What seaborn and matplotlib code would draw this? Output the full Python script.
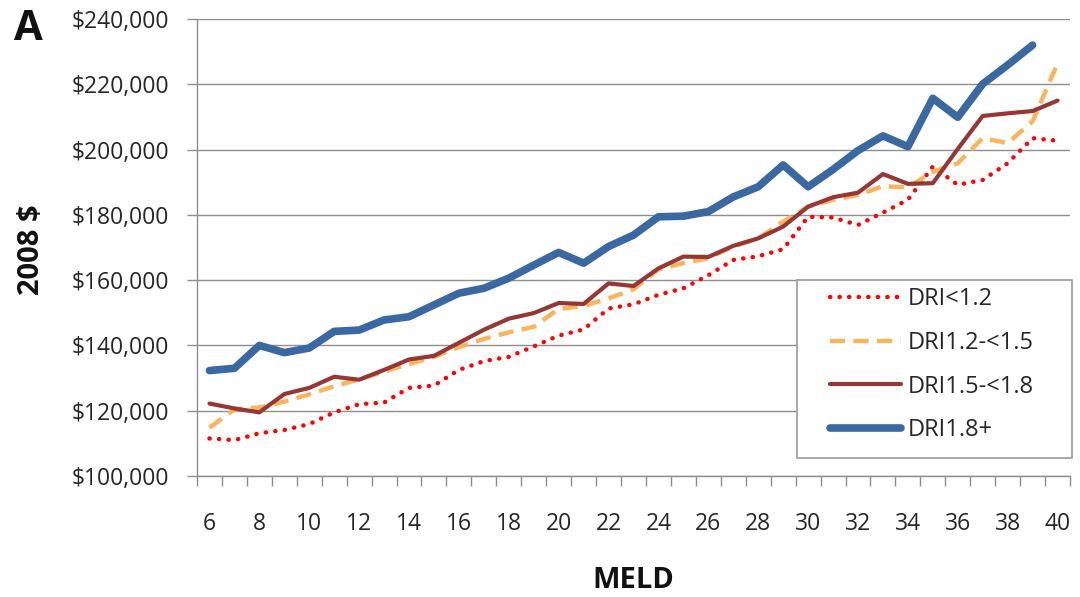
import numpy as np
import pandas as pd
import matplotlib
matplotlib.use("Agg")
import matplotlib.pyplot as plt
from matplotlib.ticker import FuncFormatter, MultipleLocator, FixedLocator
from matplotlib.patches import Rectangle
import seaborn as sns

# ---------------- data ----------------
meld = list(range(6, 41))

dri_lt_12 = [111500, 111000, 113100, 114100, 115900, 119500, 122000, 122500, 127000, 127700,
             132500, 135200, 136500, 139700, 143000, 144900, 151300, 152600, 155500, 157500,
             161500, 166200, 167300, 169500, 179400, 179200, 176900, 180700, 184600, 194800,
             189200, 190700, 195800, 203500, 202700]

dri_12_15 = [114800, 120400, 121000, 122800, 125000, 127500, 129600, 132000, 134300, 136500,
             139500, 142000, 144000, 145700, 151200, 152100, 154400, 157200, 163300, 165200,
             166700, 170300, 172800, 177900, 182500, 184600, 186100, 188800, 188400, 193200,
             195800, 203500, 202000, 208600, 226400]

dri_15_18 = [122200, 120700, 119500, 125100, 127000, 130400, 129500, 132500, 135700, 136800,
             140800, 144800, 148200, 149900, 153000, 152700, 159000, 158200, 163600, 167200,
             167100, 170500, 172800, 176400, 182500, 185400, 186800, 192500, 189500, 189700,
             200200, 210300, 211100, 211800, 215000]

dri_18_plus = [132300, 133000, 140000, 137800, 139200, 144300, 144700, 147800, 148800, 152400,
               156000, 157500, 160600, 164600, 168500, 165200, 170300, 173800, 179400, 179600,
               181000, 185500, 188600, 195300, 188600, 193900, 199700, 204200, 200900, 215700,
               209900, 220100, 225900, 232000, np.nan]

series_names = ["DRI<1.2", "DRI1.2-<1.5", "DRI1.5-<1.8", "DRI1.8+"]
series_values = [dri_lt_12, dri_12_15, dri_15_18, dri_18_plus]

y_ticks = [100000, 120000, 140000, 160000, 180000, 200000, 220000, 240000]
x_tick_labels = list(range(6, 41, 2))

# ---------------- styling ----------------
sns.set_style("white")
plt.rcParams["font.family"] = ["Open Sans", "DejaVu Sans"]

styles = {
    "DRI<1.2":      dict(color="#FF0000", lw=3.2, ls=(0, (0.05, 2.1)), cap="round"),
    "DRI1.2-<1.5":  dict(color="#F9B45E", lw=3.2, ls=(0, (3.4, 1.9)), cap="butt"),
    "DRI1.5-<1.8":  dict(color="#953735", lw=3.0, ls="-", cap="round"),
    "DRI1.8+":      dict(color="#3A68A0", lw=5.5, ls="-", cap="round"),
}

fig = plt.figure(figsize=(10.8, 5.97), dpi=100)
ax = fig.add_axes([197 / 1080, 1 - 476 / 597, 873 / 1080, 457 / 597])

df = pd.DataFrame({"MELD": meld})
for name, vals in zip(series_names, series_values):
    df[name] = vals

for name in series_names:
    st = styles[name]
    sns.lineplot(data=df, x="MELD", y=name, ax=ax, color=st["color"], linewidth=st["lw"],
                 label=name, zorder=3)
    line = ax.lines[-1]
    line.set_linestyle(st["ls"])
    line.set_dash_capstyle(st["cap"])
    line.set_solid_capstyle("round")
    line.set_solid_joinstyle("round")

ax.set_xlim(5.5, 40.5)
ax.set_ylim(100000, 240000)
ax.yaxis.set_major_locator(FixedLocator(y_ticks))
ax.yaxis.set_major_formatter(FuncFormatter(lambda v, p: f"${v:,.0f}"))
ax.xaxis.set_major_locator(FixedLocator(x_tick_labels))
ax.xaxis.set_minor_locator(MultipleLocator(1, offset=0.5))

grid_c = "#8E8E8E"
ax.grid(axis="y", color=grid_c, linewidth=1.0, zorder=0)
ax.grid(axis="x", visible=False)
for s in ["top", "right"]:
    ax.spines[s].set_visible(False)
for s in ["left", "bottom"]:
    ax.spines[s].set_color(grid_c)
    ax.spines[s].set_linewidth(1.0)

ax.tick_params(axis="y", which="major", length=7, width=1.0, color=grid_c, pad=13,
               labelsize=16.5, labelcolor="#262626", left=True, direction="out")
ax.tick_params(axis="x", which="major", length=0, pad=26, labelsize=16.5, labelcolor="#262626")
ax.tick_params(axis="x", which="minor", length=7, width=1.0, color=grid_c, bottom=True,
               direction="out")

ax.set_xlabel("MELD", fontsize=21, fontweight="bold", color="#111111")
ax.set_ylabel("2008 $", fontsize=21, fontweight="bold", color="#111111")
ax.xaxis.set_label_coords(0.5, -0.228)
ax.xaxis.label.set_va("center")
ax.yaxis.set_label_coords(-0.19, 0.495)
ax.yaxis.label.set_va("center")

fig.text(28 / 1080, 1 - 30 / 597, "A", fontsize=30, fontweight="bold", ha="center", va="center",
         color="#111111")

# legend frame
x0 = (797 - 197) / 873
y0 = (476 - 458) / 457
w = (1072 - 797) / 873
h = (458 - 280) / 457
rect = Rectangle((x0, y0), w, h, transform=ax.transAxes, facecolor="white",
                 edgecolor="#9A9A9A", linewidth=1.2, zorder=4.5, clip_on=False)
ax.add_patch(rect)

leg = ax.legend(loc="upper left", bbox_to_anchor=((830 - 197) / 873, (476 - 287) / 457),
                frameon=False, fontsize=17, handlelength=3.0, handletextpad=0.3,
                labelspacing=0.84, borderpad=0, borderaxespad=0)
leg.set_zorder(5)
for t in leg.get_texts():
    t.set_color("#262626")

fig.savefig("out.png", dpi=100)
